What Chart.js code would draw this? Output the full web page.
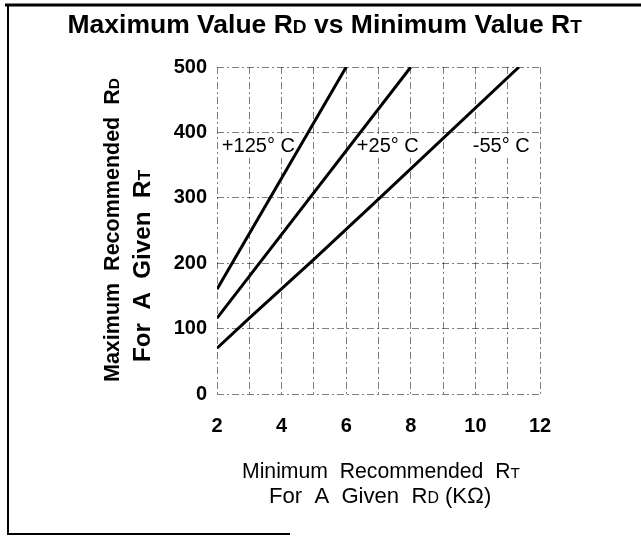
<!DOCTYPE html>
<html>
<head>
<meta charset="utf-8">
<script src="https://cdn.jsdelivr.net/npm/chart.js@4.4.1/dist/chart.umd.min.js"></script>
<style>
  html, body { margin: 0; padding: 0; background: #fff; }
  #wrap { width: 641px; height: 536px; }
</style>
</head>
<body>
<div id="wrap"><canvas id="chart" width="641" height="536"></canvas></div>
<script>
// Curves: min RT (kOhm) vs max RD
const rtHot = [2, 6];
const rdHot = [160, 500];
const rtRoom = [2, 8];
const rdRoom = [116, 500];
const rtCold = [2, 3, 5, 7, 11.35];
const rdCold = [70, 116, 206, 298, 500];

const curveNames = ['+125\u00B0 C', '+25\u00B0 C', '-55\u00B0 C'];
// where each curve label sits, in data units (left edge, middle)
const labelX = [2.15, 6.33, 9.92];
const labelY = [378, 378, 378];

const xTicks = [2, 4, 6, 8, 10, 12];
const yTicks = [0, 100, 200, 300, 400, 500];

const FONT = '"Liberation Sans", Arial, Helvetica, sans-serif';
const LABEL_FONT = '20px ' + FONT;

function pts(xs, ys) {
    return xs.map((x, i) => ({ x: x, y: ys[i] }));
}

// rich text: segments [text, sizeScale]; small caps sit on the same baseline
function richWidth(ctx, segs, size, weight) {
    let w = 0;
    segs.forEach(s => {
        ctx.font = weight + ' ' + Math.round(size * s[1]) + 'px ' + FONT;
        w += ctx.measureText(s[0]).width;
    });
    return w;
}

function drawRich(ctx, segs, cx, baseline, width, weight) {
    // pick a size that gives the measured width
    const size = 100 * width / richWidth(ctx, segs, 100, weight);
    let x = cx - width / 2;
    ctx.textBaseline = 'alphabetic';
    ctx.textAlign = 'left';
    segs.forEach(s => {
        ctx.font = weight + ' ' + (size * s[1]).toFixed(1) + 'px ' + FONT;
        ctx.fillText(s[0], x, baseline);
        x += ctx.measureText(s[0]).width;
    });
}

function eachLabel(chart, fn) {
    const xs = chart.scales.x, ys = chart.scales.y;
    curveNames.forEach((t, i) => {
        fn(t, xs.getPixelForValue(labelX[i]), ys.getPixelForValue(labelY[i]));
    });
}

const decor = {
    id: 'decor',
    beforeDatasetsDraw(chart) {
        // white patches break the grid behind the curve labels
        const ctx = chart.ctx;
        ctx.save();
        ctx.font = LABEL_FONT;
        ctx.fillStyle = '#fff';
        eachLabel(chart, (t, px, py) => {
            ctx.fillRect(px - 2, py - 11, ctx.measureText(t).width + 4, 22);
        });
        ctx.restore();
    },
    afterDraw(chart) {
        const ctx = chart.ctx;
        ctx.save();
        ctx.fillStyle = '#000';

        // frame
        ctx.strokeStyle = '#000';
        ctx.lineWidth = 3;
        ctx.beginPath();
        ctx.moveTo(5, 5); ctx.lineTo(641, 5);
        ctx.stroke();
        ctx.lineWidth = 2;
        ctx.beginPath();
        ctx.moveTo(8, 5); ctx.lineTo(8, 534); ctx.lineTo(290, 534);
        ctx.stroke();

        // title
        drawRich(ctx, [['Maximum Value R', 1], ['D', 0.72], [' vs Minimum Value R', 1], ['T', 0.72]],
            325, 33, 515, 'bold');

        // x axis title
        drawRich(ctx, [['Minimum  Recommended  R', 1], ['T', 0.72]], 381, 478, 278, 'normal');
        drawRich(ctx, [['For  A  Given  R', 1], ['D', 0.72], [' (K\u2126)', 1]], 380, 503, 222, 'normal');

        // y axis title (rotated)
        ctx.save();
        ctx.translate(119, 230);
        ctx.rotate(-Math.PI / 2);
        drawRich(ctx, [['Maximum  Recommended  R', 1], ['D', 0.72]], 0, 0, 304, 'bold');
        ctx.restore();
        ctx.save();
        ctx.translate(150, 266);
        ctx.rotate(-Math.PI / 2);
        drawRich(ctx, [['For  A  Given  R', 1], ['T', 0.72]], 0, 0, 192, 'bold');
        ctx.restore();

        // curve labels
        ctx.font = LABEL_FONT;
        ctx.textAlign = 'left';
        ctx.textBaseline = 'middle';
        eachLabel(chart, (t, px, py) => ctx.fillText(t, px, py));
        ctx.restore();
    }
};

const gridStyle = { color: 'rgba(0,0,0,0.5)', lineWidth: 1, drawTicks: false };
const borderStyle = { display: false, dash: [7, 3, 2, 3] };

new Chart(document.getElementById('chart').getContext('2d'), {
    type: 'line',
    data: {
        datasets: [
            { label: curveNames[0], data: pts(rtHot, rdHot) },
            { label: curveNames[1], data: pts(rtRoom, rdRoom) },
            { label: curveNames[2], data: pts(rtCold, rdCold) }
        ].map(d => Object.assign(d, {
            borderColor: '#000',
            borderWidth: 3,
            pointRadius: 0,
            tension: 0,
            fill: false
        }))
    },
    options: {
        responsive: false,
        animation: false,
        layout: { padding: { top: 67, right: 101, left: 0, bottom: 0 } },
        plugins: { legend: { display: false }, tooltip: { enabled: false } },
        scales: {
            x: {
                type: 'linear',
                min: 2, max: 12,
                grid: gridStyle,
                border: borderStyle,
                ticks: {
                    stepSize: 1,
                    padding: 20,
                    color: '#000',
                    font: { family: FONT, size: 20, weight: 'bold' },
                    maxRotation: 0,
                    autoSkip: false,
                    callback: v => xTicks.includes(v) ? String(v) : ''
                },
                afterFit: s => { s.height = 142; }
            },
            y: {
                min: 0, max: 500,
                grid: gridStyle,
                border: borderStyle,
                ticks: {
                    stepSize: 100,
                    padding: 10,
                    color: '#000',
                    font: { family: FONT, size: 20, weight: 'bold' },
                    callback: v => yTicks.includes(v) ? String(v) : ''
                },
                afterFit: s => { s.width = 217; }
            }
        }
    },
    plugins: [decor]
});
</script>
</body>
</html>
